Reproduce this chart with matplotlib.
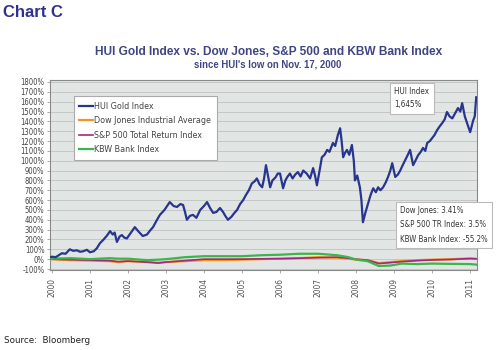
import numpy as np
import matplotlib.pyplot as plt
from matplotlib import font_manager

# fuente estrecha si existe
cond = font_manager.FontProperties(family='DejaVu Sans', stretch='condensed')
cond_path = font_manager.findfont(cond, fallback_to_default=False)
if 'Condensed' in cond_path:
    narrow = dict(family='DejaVu Sans', stretch='condensed')
else:
    narrow = dict(family='Liberation Sans')

# HUI Gold Index (% desde el minimo)
hui_x = [1999.95, 2000.0, 2000.1, 2000.18, 2000.26, 2000.36, 2000.47, 2000.56, 2000.66, 2000.74,
         2000.82, 2000.92, 2001.0, 2001.1, 2001.18, 2001.26, 2001.36, 2001.45, 2001.53, 2001.6,
         2001.65, 2001.71, 2001.78, 2001.84, 2001.9, 2001.97, 2002.08, 2002.18, 2002.28, 2002.39,
         2002.5, 2002.58, 2002.66, 2002.75, 2002.84, 2002.96, 2003.1, 2003.2, 2003.29, 2003.38,
         2003.45, 2003.5, 2003.55, 2003.63, 2003.71, 2003.8, 2003.9, 2004.0, 2004.08, 2004.16,
         2004.24, 2004.33, 2004.42, 2004.5, 2004.56, 2004.63, 2004.72, 2004.8, 2004.87, 2004.95,
         2005.03, 2005.1, 2005.18, 2005.26, 2005.33, 2005.39, 2005.46, 2005.53, 2005.58, 2005.63,
         2005.68, 2005.74, 2005.8, 2005.88, 2005.94, 2006.0, 2006.08, 2006.14, 2006.2, 2006.26,
         2006.33, 2006.4, 2006.47, 2006.54, 2006.61, 2006.7, 2006.79, 2006.87, 2006.92, 2006.97,
         2007.04, 2007.1, 2007.17, 2007.24, 2007.3, 2007.39, 2007.45, 2007.52, 2007.58, 2007.62,
         2007.66, 2007.71, 2007.76, 2007.82, 2007.89, 2007.94, 2007.97, 2008.03, 2008.1, 2008.14,
         2008.18, 2008.25, 2008.32, 2008.38, 2008.45, 2008.52, 2008.58, 2008.64, 2008.71, 2008.78,
         2008.84, 2008.9, 2008.95, 2009.03, 2009.1, 2009.16, 2009.22, 2009.29, 2009.36, 2009.42,
         2009.5, 2009.56, 2009.63, 2009.7, 2009.76, 2009.82, 2009.87, 2009.94, 2010.0, 2010.06,
         2010.13, 2010.2, 2010.26, 2010.33, 2010.39, 2010.46, 2010.53, 2010.6, 2010.68, 2010.74,
         2010.79, 2010.86, 2010.92, 2011.0, 2011.04, 2011.08, 2011.12, 2011.16]
hui_y = [20, 25, 20, 40, 60, 55, 100, 85, 90, 75,
         80, 95, 70, 80, 110, 160, 200, 240, 285, 250,
         270, 175, 230, 245, 220, 210, 270, 325, 280, 235,
         250, 290, 325, 390, 450, 500, 580, 540, 530, 560,
         550, 480, 400, 440, 450, 420, 500, 540, 580, 520,
         470, 480, 520, 480, 440, 400, 430, 470, 500, 560,
         600, 650, 700, 770, 790, 820, 760, 730, 820, 955,
         850, 730, 800, 830, 870, 870, 720, 800, 840, 870,
         820, 860, 885, 840, 900, 870, 820, 925, 850, 750,
         900, 1035, 1060, 1110, 1090, 1180, 1150, 1260, 1330, 1200,
         1035, 1080, 1110, 1060, 1160, 1000, 800, 850, 730, 600,
         375, 480, 570, 650, 720, 680, 730, 700, 730, 780,
         835, 900, 975, 835, 860, 900, 950, 1005, 1060, 1110,
         955, 1000, 1055, 1090, 1130, 1100, 1180, 1200, 1230, 1260,
         1310, 1350, 1380, 1420, 1495, 1450, 1430, 1480, 1535, 1500,
         1585, 1450, 1380, 1290, 1350, 1410, 1450, 1645]

# Dow Jones, S&P 500 TR, KBW Bank (%)
idx_x = [1999.95, 2000.5, 2001.0, 2001.5, 2001.75, 2002.0, 2002.5, 2002.8, 2003.0, 2003.5,
         2004.0, 2004.5, 2005.0, 2005.5, 2006.0, 2006.5, 2007.0, 2007.5, 2007.8, 2008.0,
         2008.3, 2008.6, 2008.9, 2009.2, 2009.6, 2010.0, 2010.5, 2011.0, 2011.16]
dow_y = [0, -10, -15, -20, -30, -20, -30, -35, -30, -20,
         -10, -10, -5, 0, 5, 10, 20, 15, 5, -5,
         -10, -40, -30, -20, -10, -5, 0, 8, 3.41]
spx_y = [0, -5, -10, -15, -25, -20, -30, -40, -30, -15,
         0, 0, 0, 3, 5, 10, 15, 20, 10, 0,
         -10, -45, -35, -25, -15, -8, -3, 6, 3.5]
kbw_y = [5, 10, 0, 10, 5, 5, -10, -5, 0, 20,
         30, 30, 30, 40, 45, 55, 55, 40, 20, -5,
         -20, -70, -65, -45, -50, -45, -48, -50, -55.2]

years = list(range(2000, 2012))
yticks = list(range(-100, 1900, 100))

fig = plt.figure(figsize=(5, 3.5), dpi=100)
ax = fig.add_axes([0.1, 0.2286, 0.854, 0.5428])
ax.set_facecolor('#e1e5e4')

ax.plot(idx_x, dow_y, color='#f7941d', lw=1.6, label='Dow Jones Industrial Average', zorder=3)
ax.plot(idx_x, spx_y, color='#a3297a', lw=1.2, label='S&P 500 Total Return Index', zorder=3)
ax.plot(idx_x, kbw_y, color='#3cb54a', lw=1.6, label='KBW Bank Index', zorder=4)
ax.plot(hui_x, hui_y, color='#28358f', lw=1.6, label='HUI Gold Index', zorder=5)

ax.set_xlim(1999.95, 2011.18)
ax.set_ylim(-110, 1820)
ax.set_yticks(yticks)
ax.set_yticklabels([f'{v}%' for v in yticks], fontsize=5.5, color='#444444', **narrow)
ax.set_xticks(years)
ax.set_xticklabels([str(y) for y in years], rotation=90, fontsize=6, color='#555555', **narrow)
ax.tick_params(axis='both', length=2, width=0.5, color='#888888', pad=2)
ax.tick_params(axis='x', pad=4)
ax.yaxis.grid(True, color='#c3c7c6', lw=0.7)
ax.set_axisbelow(True)
for s in ax.spines.values():
    s.set_color('#8a8a8a')
    s.set_linewidth(0.8)

h, l = ax.get_legend_handles_labels()
order = [3, 0, 1, 2]
leg = ax.legend([h[i] for i in order], [l[i] for i in order], loc='upper left',
                bbox_to_anchor=(0.045, 0.94), frameon=True, fancybox=False,
                edgecolor='#aaaaaa', framealpha=1, handlelength=1.5, handletextpad=0.15,
                labelspacing=0.62, borderpad=0.65,
                prop=font_manager.FontProperties(size=6.4, **narrow))
leg.get_frame().set_linewidth(0.8)
for t in leg.get_texts():
    t.set_color('#444444')
leg.set_zorder(6)

box = dict(boxstyle='square,pad=0.55', fc='white', ec='#bbbbbb', lw=0.8)
ax.text(0.806, 0.905, 'HUI Index\n1,645%', transform=ax.transAxes, fontsize=5.8,
        color='#333333', va='center', ha='left', linespacing=1.6,
        bbox=box, zorder=7, **narrow)
ax.text(0.82, 0.238, 'Dow Jones: 3.41%\nS&P 500 TR Index: 3.5%\nKBW Bank Index: -55.2%',
        transform=ax.transAxes, fontsize=5.7, color='#333333',
        va='center', ha='left', linespacing=1.75, bbox=box, zorder=7, clip_on=False, **narrow)

fig.text(0.006, 0.965, 'Chart C', fontsize=12, fontweight='bold', color='#2e3192',
         family='Liberation Sans', va='center')
fig.text(0.538, 0.852, 'HUI Gold Index vs. Dow Jones, S&P 500 and KBW Bank Index',
         fontsize=8.6, fontweight='bold', color='#3f4682', family='Liberation Sans',
         ha='center', va='center')
fig.text(0.536, 0.815, "since HUI's low on Nov. 17, 2000", fontsize=6.9,
         fontweight='bold', color='#3f4682', family='Liberation Sans', ha='center', va='center')
fig.text(0.008, 0.028, 'Source:  Bloomberg', fontsize=6.3, color='#222222',
         family='DejaVu Sans', va='center')

fig.savefig('out.png', dpi=100)
